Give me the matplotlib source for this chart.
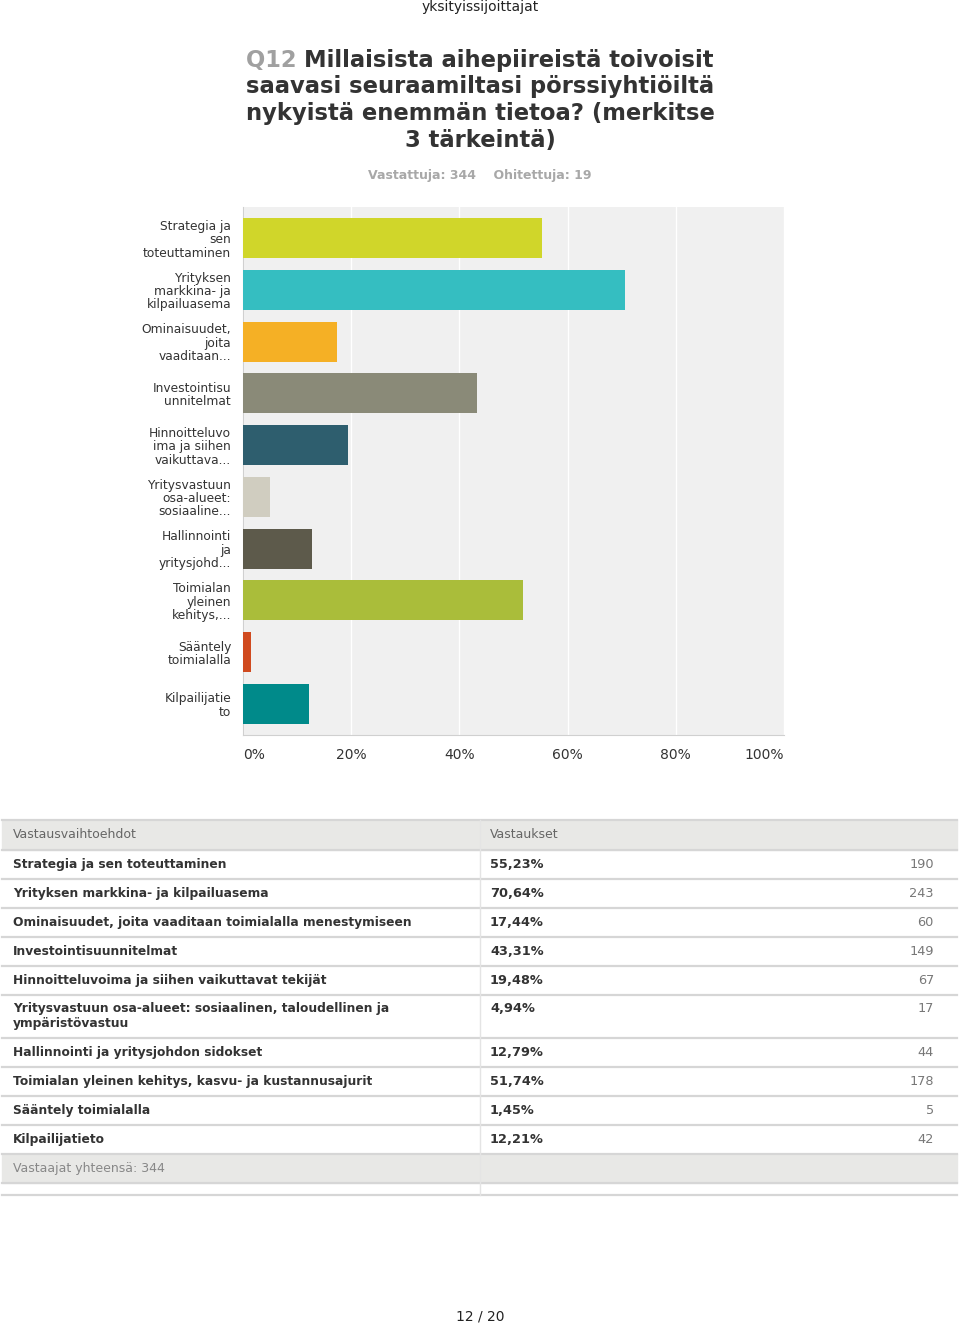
import matplotlib.pyplot as plt
from matplotlib.patches import Rectangle

# data
short_labels = [
    "Strategia ja\nsen\ntoteuttaminen",
    "Yrityksen\nmarkkina- ja\nkilpailuasema",
    "Ominaisuudet,\njoita\nvaaditaan...",
    "Investointisu\nunnitelmat",
    "Hinnoitteluvo\nima ja siihen\nvaikuttava...",
    "Yritysvastuun\nosa-alueet:\nsosiaaline...",
    "Hallinnointi\nja\nyritysjohd...",
    "Toimialan\nyleinen\nkehitys,...",
    "Sääntely\ntoimialalla",
    "Kilpailijatie\nto",
]
full_labels = [
    "Strategia ja sen toteuttaminen",
    "Yrityksen markkina- ja kilpailuasema",
    "Ominaisuudet, joita vaaditaan toimialalla menestymiseen",
    "Investointisuunnitelmat",
    "Hinnoitteluvoima ja siihen vaikuttavat tekijät",
    "Yritysvastuun osa-alueet: sosiaalinen, taloudellinen ja\nympäristövastuu",
    "Hallinnointi ja yritysjohdon sidokset",
    "Toimialan yleinen kehitys, kasvu- ja kustannusajurit",
    "Sääntely toimialalla",
    "Kilpailijatieto",
]
percents = [55.23, 70.64, 17.44, 43.31, 19.48, 4.94, 12.79, 51.74, 1.45, 12.21]
counts = [190, 243, 60, 149, 67, 17, 44, 178, 5, 42]
colors = ["#d0d62a", "#35bec1", "#f5b025", "#8a8a78", "#2e5e6e",
          "#d0cdc0", "#5d5a4b", "#aabd3a", "#d04a1f", "#008a8a"]
x_ticks = [0, 20, 40, 60, 80, 100]
answered, skipped = 344, 19

W, H = 960, 1326
fig = plt.figure(figsize=(W / 100, H / 100), dpi=100)

# full-figure overlay in pixel coords
bg = fig.add_axes([0, 0, 1, 1])
bg.set_xlim(0, W)
bg.set_ylim(H, 0)
bg.axis("off")

dark = "#333333"
tsize = 16.3
bg.text(480, 7, "yksityissijoittajat", ha="center", va="center", fontsize=10, color="#222222")
title_lines = ["Millaisista aihepiireistä toivoisit", "saavasi seuraamiltasi pörssiyhtiöiltä",
               "nykyistä enemmän tietoa? (merkitse", "3 tärkeintä)"]
# first line: gray "Q12 " + dark text, centred together
q = bg.text(0, 60, "Q12 ", ha="left", va="center", fontsize=tsize, fontweight="bold", color="#a0a0a0")
rest = bg.text(0, 60, title_lines[0], ha="left", va="center", fontsize=tsize,
               fontweight="bold", color=dark)
fig.canvas.draw()
r = fig.canvas.get_renderer()
wq = q.get_window_extent(r).width
wr = rest.get_window_extent(r).width
x0 = 480 - (wq + wr) / 2
q.set_x(x0)
rest.set_x(x0 + wq)
for i, line in enumerate(title_lines[1:], start=1):
    bg.text(480, 60 + 26.7 * i, line, ha="center", va="center", fontsize=tsize,
            fontweight="bold", color=dark)
bg.text(480, 175, f"Vastattuja: {answered}    Ohitettuja: {skipped}", ha="center", va="center",
        fontsize=9, fontweight="bold", color="#a8a8a8")

# bar chart
ax = fig.add_axes([243 / W, 1 - 735 / H, (784 - 243) / W, (735 - 207) / H])
ax.set_facecolor("#f0f0f0")
y = list(range(len(percents)))
ax.barh(y, percents, height=0.77, color=colors, zorder=3)
ax.set_xlim(0, 100)
ax.set_ylim(len(percents) - 0.4, -0.6)
ax.set_xticks(x_ticks)
ax.set_xticklabels([f"{v}%" for v in x_ticks], fontsize=10, color=dark)
for lab, ha in zip(ax.get_xticklabels(), ["left", "center", "center", "center", "center", "right"]):
    lab.set_ha(ha)
ax.set_yticks(y)
ax.set_yticklabels(short_labels, fontsize=8.8, color=dark, linespacing=1.03)
ax.tick_params(axis="x", length=0, pad=9.5)
ax.tick_params(axis="y", length=0, pad=8.5)
ax.grid(axis="x", color="white", linewidth=1, zorder=1)
for s in ["top", "right"]:
    ax.spines[s].set_visible(False)
ax.spines["left"].set_color("#d0d0d0")
ax.spines["bottom"].set_color("#d0d0d0")

# table
line_c = "#d6d6d6"
left, right, mid = 2, 957, 480
bg.add_patch(Rectangle((left, 820), right - left, 30, color="#e8e8e6", zorder=1))
bg.text(13, 835, "Vastausvaihtoehdot", ha="left", va="center", fontsize=9, color="#666666")
bg.text(490, 835, "Vastaukset", ha="left", va="center", fontsize=9, color="#666666")
row_tops = [850]
heights = [29, 29, 29, 29, 29, 43, 29, 29, 29, 29]
for h in heights:
    row_tops.append(row_tops[-1] + h)
for i in range(len(percents)):
    top = row_tops[i]
    ty = top + 14.5 if heights[i] == 29 else top + 13.5
    if "\n" in full_labels[i]:
        bg.text(13, top + 7, full_labels[i], ha="left", va="top",
                fontsize=8.8, fontweight="bold", color=dark, linespacing=1.15)
    else:
        bg.text(13, ty, full_labels[i], ha="left", va="center",
                fontsize=8.8, fontweight="bold", color=dark)
    bg.text(490, ty, f"{percents[i]:.2f}%".replace(".", ","), ha="left", va="center",
            fontsize=9.3, fontweight="bold", color=dark)
    bg.text(934, ty, str(counts[i]), ha="right", va="center", fontsize=9.3, color="#777777")
foot = row_tops[-1]
bg.add_patch(Rectangle((left, foot), right - left, 29, color="#e8e8e6", zorder=1))
bg.text(13, foot + 14.5, f"Vastaajat yhteensä: {answered}", ha="left", va="center",
        fontsize=9, color="#888888")
for yy in [820] + row_tops + [foot + 29, foot + 41]:
    bg.plot([left, right], [yy, yy], color=line_c, linewidth=1.6, zorder=2)
bg.plot([mid, mid], [820, foot + 41], color="#e4e4e4", linewidth=1, zorder=2)

bg.text(480, 1316, "12 / 20", ha="center", va="center", fontsize=10, color="#222222")

fig.savefig("out.png", dpi=100, facecolor="white")
